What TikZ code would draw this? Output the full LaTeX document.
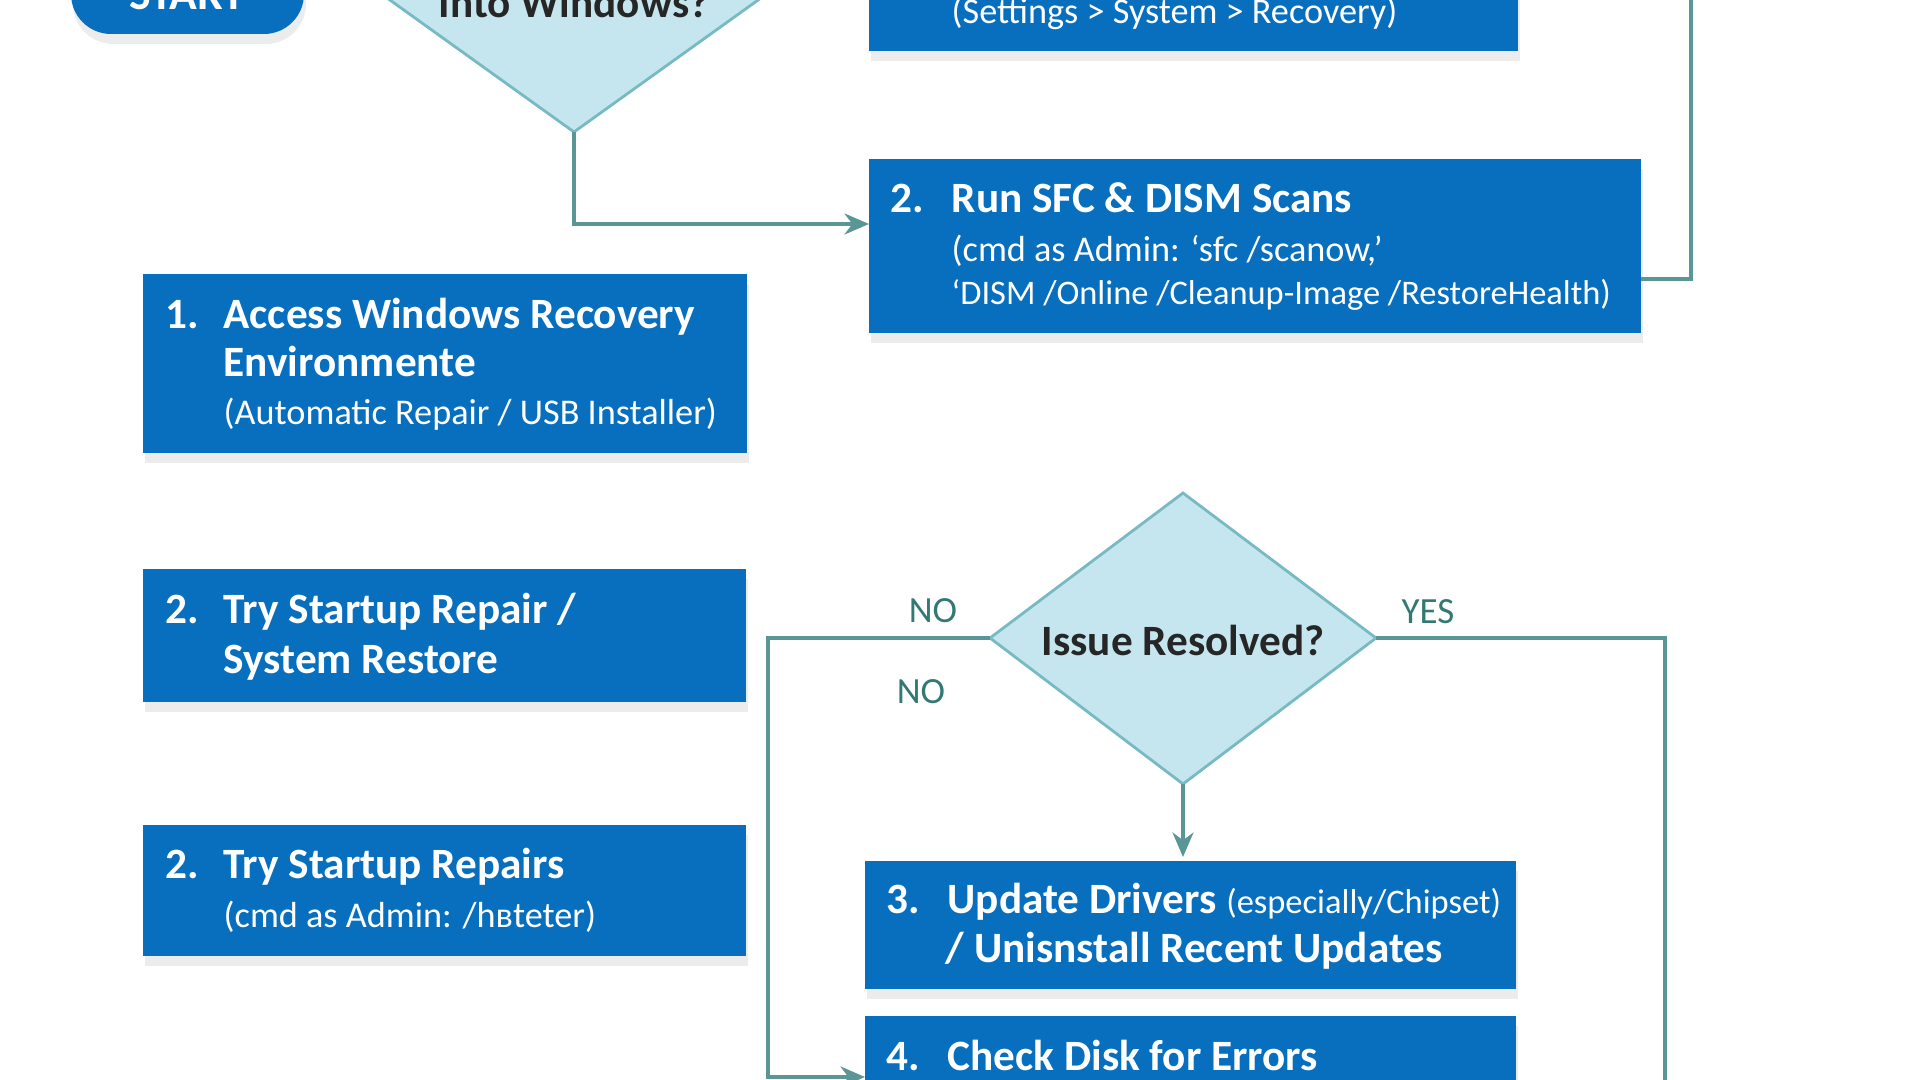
\documentclass[tikz,border=0pt]{standalone}
\usepackage{fontspec}
\setmainfont{Carlito}
\usetikzlibrary{shapes.geometric,shadows,arrows.meta}
\definecolor{boxblue}{RGB}{8,111,190}
\definecolor{dfill}{RGB}{197,230,238}
\definecolor{dline}{RGB}{120,186,196}
\definecolor{conn}{RGB}{90,150,150}
\definecolor{lbl}{RGB}{50,120,115}
\tikzset{
 bshadow/.style={drop shadow={shadow xshift=0.02cm,shadow yshift=-0.1cm,opacity=0.15}},
 dia/.style={draw=dline,line width=0.8pt,fill=dfill},
 hd/.style={anchor=base west,text=white,font=\bfseries\fontsize{12.3}{14}\selectfont,inner sep=0pt},
 sb/.style={anchor=base west,text=white,font=\fontsize{10.3}{12}\selectfont,inner sep=0pt},
 lb/.style={text=lbl,font=\fontsize{10.5}{12}\selectfont,inner sep=0pt},
 cn/.style={draw=conn,line width=0.9pt},
 ar/.style={cn,-{Stealth[length=7pt,width=6pt]}}
}
\begin{document}
\begin{tikzpicture}[x=0.01cm,y=-0.01cm]
\useasboundingbox (0,0) rectangle (1920,1080);
\begin{scope}
\clip (0,0) rectangle (1920,1080);
% start
\fill[boxblue,rounded corners=0.4cm,bshadow] (71,-120) rectangle (304,34);
\node (starttxt) [text=white,font=\bfseries\fontsize{13}{14}\selectfont] at (187,-5) {START};
% diamond 1
\fill[dia] (574,132) -- (793,-25) -- (574,-181) -- (355,-25) -- cycle;
\coordinate (d1b) at (574,132);
\node (d1t) [font=\bfseries\fontsize{12.3}{14}\selectfont,text=black!85] at (574,2) {Into Windows?};
% top box
\fill[boxblue,bshadow] (869,-120) rectangle (1518,51);
\node (tb) [sb] at (951,24) {(Settings > System > Recovery)};
% box sfc
\fill[boxblue,bshadow] (869,159) rectangle (1641,333);
\coordinate (sfcL) at (869,224);
\coordinate (sfcR) at (1641,279);
\node (s1n) [hd] at (890,213) {2.};
\node (s1) [hd] at (951,213) {Run SFC \& DISM Scans};
\node (s2) [sb] at (951,262) {(cmd as Admin: ‘sfc /scanow,’};
\node (s3) [sb,font=\fontsize{9.8}{12}\selectfont] at (951,305) {‘DISM /Online /Cleanup-Image /RestoreHealth)};
% box 1
\fill[boxblue,bshadow] (143,274) rectangle (747,453);
\node (a1n) [hd] at (165,329) {1.};
\node (a1) [hd] at (223,329) {Access Windows Recovery};
\node (a2) [hd] at (223,377) {Environmente};
\node (a3) [sb] at (223,425) {(Automatic Repair / USB Installer)};
% box 2b
\fill[boxblue,bshadow] (143,569) rectangle (746,702);
\node (b1n) [hd] at (165,624) {2.};
\node (b1) [hd] at (223,624) {Try Startup Repair /};
\node (b2) [hd] at (223,674) {System Restore};
% box 2c
\fill[boxblue,bshadow] (143,825) rectangle (746,956);
\node (c1n) [hd] at (165,879) {2.};
\node (c1) [hd] at (223,879) {Try Startup Repairs};
\node (c2) [sb] at (223,928) {(cmd as Admin: /hвteter)};
% diamond 2
\fill[dia] (1183,493) -- (1376,638) -- (1183,784) -- (990,638) -- cycle;
\coordinate (d2L) at (990,638);
\coordinate (d2R) at (1376,638);
\coordinate (d2B) at (1183,784);
\node (d2t) [font=\bfseries\fontsize{12.3}{14}\selectfont,text=black!85] at (1183,640) {Issue Resolved?};
\node (no1) [lb] at (933,611) {NO};
\node (no2) [lb] at (921,692) {NO};
\node (yes) [lb] at (1428,612) {YES};
% box 3
\fill[boxblue,bshadow] (865,861) rectangle (1516,989);
\coordinate (b3T) at (1183,857);
\node (u1n) [hd] at (886,914) {3.};
\node (u1) [hd] at (947,914) {Update Drivers \fontseries{m}\fontsize{9.8}{12}\selectfont(especially/Chipset)};
\node (u2) [hd] at (945,963) {/ Unisnstall Recent Updates};
% box 4
\fill[boxblue,bshadow] (865,1016) rectangle (1516,1200);
\coordinate (b4L) at (865,1077);
\node (k1n) [hd] at (886,1071) {4.};
\node (k1) [hd] at (947,1071) {Check Disk for Errors};
% connectors
\draw[ar] (d1b) |- (sfcL);
\draw[cn] (sfcR) -| (1691,-20);
\draw[ar] (d2B) -- (b3T);
\draw[ar] (d2L) -| (768,1077) -- (b4L);
\draw[cn] (d2R) -| (1665,1100);
\end{scope}
\end{tikzpicture}
\end{document}
